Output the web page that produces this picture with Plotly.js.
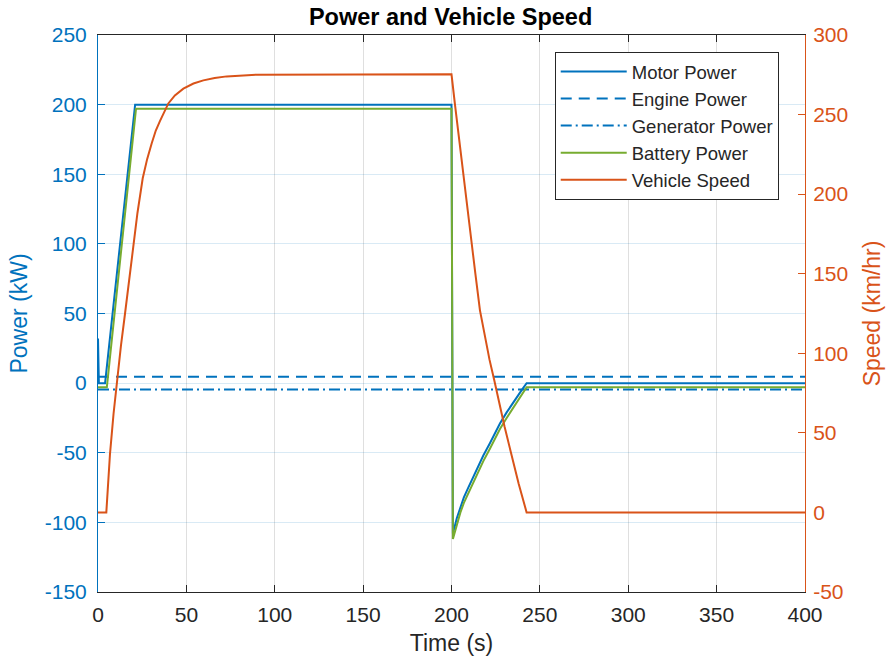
<!DOCTYPE html>
<html><head><meta charset="utf-8">
<script src="https://cdn.plot.ly/plotly-3.0.1.min.js"></script>
<style>body{margin:0;background:#fff}#c{width:887px;height:664px}</style>
</head><body><div id="c"></div>
<script>
// Time (s) and values
const motorT = [0, 0.5, 4, 21, 200, 200.8, 203, 205, 207, 209.5, 212.3, 215, 218, 221.8, 224.5, 227.4, 231.2, 234, 237, 240, 242.5, 400];
const motorP = [32, 0, 0, 200, 200, -108, -97, -89, -82, -75, -67, -60, -52, -43, -36, -29, -21, -15.5, -10, -4.5, 0, 0];
const batteryT = [0, 5, 21.5, 200, 200.8, 203, 205, 207, 209.5, 212.3, 215, 218, 221.8, 224.5, 227.4, 231.2, 234, 237, 240, 242.5, 400];
const batteryP = [-3, -3, 197, 197, -112, -101, -93, -86, -79, -71, -64, -56, -47, -40, -33, -25, -19.5, -14, -8, -3, -3];
const engineT = [0, 400];
const engineP = [4.5, 4.5];
const genT = [0, 400];
const genP = [-4.5, -4.5];
const speedT = [0, 4.7, 5.5, 6.8, 8.8, 10.9, 13, 15.3, 17.3, 19.3, 22.3, 25.3, 27.8, 30.4, 32.7, 35.1, 37.5, 39.8, 43.5, 48.3, 54, 59.6, 66, 72.8, 90, 200,
                202, 204, 206.7, 209, 211, 213.5, 216.1, 219, 221.5, 224.2, 227, 230, 234, 238, 242.5, 400];
const speedV = [0, 0, 14, 37, 62, 85, 105, 125, 143, 160, 188, 210, 222, 232, 240, 246, 252, 257, 262, 266.3, 269.5, 271.5, 273, 274, 275.1, 275.3,
                256, 237, 212, 190, 171, 150, 127, 110, 96, 83, 68, 54, 36, 18, 0, 0];
const xTicks = [0, 50, 100, 150, 200, 250, 300, 350, 400];
const yLeftTicks = [-150, -100, -50, 0, 50, 100, 150, 200, 250];
const yRightTicks = [-50, 0, 50, 100, 150, 200, 250, 300];

const BLUE = '#0072BD', GREEN = '#77AC30', ORANGE = '#D95319', DARK = '#262626';
const F = 'Liberation Sans, Arial, sans-serif';

const traces = [
  {x: motorT, y: motorP, name: 'Motor Power', mode: 'lines', line: {color: BLUE, width: 2}},
  {x: engineT, y: engineP, name: 'Engine Power', mode: 'lines', line: {color: BLUE, width: 2, dash: '11px,7px'}},
  {x: genT, y: genP, name: 'Generator Power', mode: 'lines', line: {color: BLUE, width: 2, dash: '11px,4px,2px,4px'}},
  {x: batteryT, y: batteryP, name: 'Battery Power', mode: 'lines', line: {color: GREEN, width: 2}},
  {x: speedT, y: speedV, name: 'Vehicle Speed', mode: 'lines', yaxis: 'y2', line: {color: ORANGE, width: 2}}
];

const layout = {
  width: 887, height: 664,
  margin: {l: 98, r: 82, t: 35, b: 72},
  paper_bgcolor: '#fff', plot_bgcolor: '#fff',
  font: {family: F, color: DARK},
  title: {text: '<b>Power and Vehicle Speed</b>', font: {family: F, size: 23.5, color: '#000'}, x: 0.508, xanchor: 'center', y: 0.975, yanchor: 'middle'},
  showlegend: true,
  legend: {x: 0.646, y: 0.9695, xanchor: 'left', yanchor: 'top', bgcolor: '#fff', bordercolor: DARK, borderwidth: 1,
           font: {family: F, size: 18.5, color: DARK}, itemwidth: 66},
  xaxis: {range: [0, 400], tickvals: xTicks, ticktext: xTicks.map(String), ticks: 'inside', ticklen: 7, tickcolor: DARK,
          showline: true, linecolor: DARK, linewidth: 1, mirror: 'ticks', showgrid: true, gridcolor: 'rgba(38,38,38,0.15)',
          zeroline: false, tickfont: {family: F, size: 21, color: DARK}, ticklabelstandoff: 4,
          title: {text: 'Time (s)', font: {family: F, size: 23, color: DARK}, standoff: 9}},
  yaxis: {range: [-150, 250], tickvals: yLeftTicks, ticktext: yLeftTicks.map(String), ticks: 'inside', ticklen: 7, tickcolor: BLUE,
          showline: true, linecolor: BLUE, linewidth: 1, showgrid: true, gridcolor: 'rgba(0,114,189,0.15)',
          zeroline: false, tickfont: {family: F, size: 21, color: BLUE}, ticklabelstandoff: 6,
          title: {text: 'Power (kW)', font: {family: F, size: 23, color: BLUE}, standoff: 10}},
  yaxis2: {range: [-50, 300], tickvals: yRightTicks, ticktext: yRightTicks.map(String), overlaying: 'y', side: 'right',
           ticks: 'inside', ticklen: 7, tickcolor: ORANGE, showline: true, linecolor: ORANGE, linewidth: 1,
           showgrid: false, zeroline: false, tickfont: {family: F, size: 21, color: ORANGE}, ticklabelstandoff: 3,
           title: {text: 'Speed (km/hr)', font: {family: F, size: 23, color: ORANGE}, standoff: 16}}
};

Plotly.newPlot('c', traces, layout, {displayModeBar: false, staticPlot: true});
</script></body></html>
